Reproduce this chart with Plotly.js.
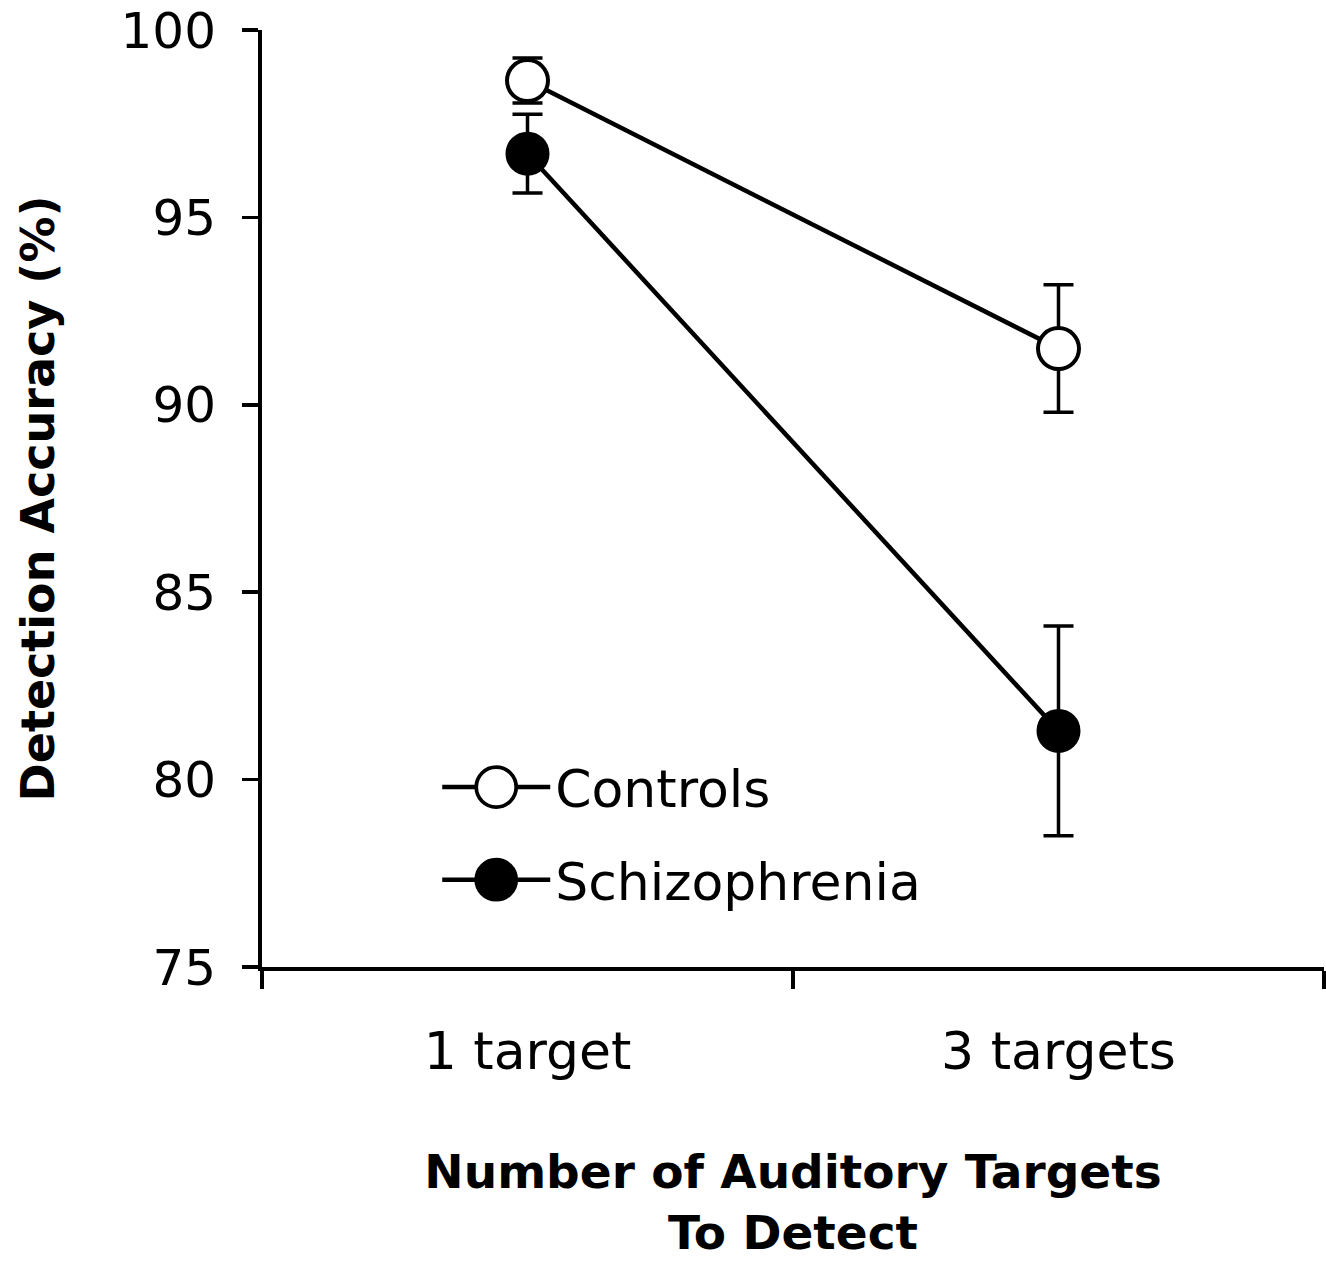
<!DOCTYPE html>
<html>
<head>
<meta charset="utf-8">
<script src="https://cdn.plot.ly/plotly-3.0.1.min.js"></script>
<style>html,body{margin:0;padding:0;background:#fff;}</style>
</head>
<body>
<div id="chart" style="width:1326px;height:1269px;"></div>
<script>
const categories = ["1 target", "3 targets"];
const controlsMean = [98.65, 91.5];
const controlsErr = [0.6, 1.7];
const schizMean = [96.7, 81.3];
const schizErr = [1.05, 2.8];
const seriesNames = ["Controls", "Schizophrenia"];
const yTicks = [75, 80, 85, 90, 95, 100];

const FONT = "DejaVu Sans, sans-serif";

const traces = [
  {
    x: categories, y: schizMean, name: seriesNames[1], type: "scatter", mode: "lines+markers",
    legendgroup: "b", legendrank: 2,
    line: {color: "#000", width: 4.5},
    marker: {symbol: "circle", size: 41, color: "#000", line: {color: "#000", width: 3}},
    error_y: {type: "data", array: schizErr, visible: true, color: "#000", thickness: 3.5, width: 15}
  },
  {
    x: categories, y: controlsMean, name: seriesNames[0], type: "scatter", mode: "lines+markers",
    legendgroup: "a", legendrank: 1,
    line: {color: "#000", width: 4.5},
    marker: {symbol: "circle", size: 41, color: "#fff", line: {color: "#000", width: 4}},
    error_y: {type: "data", array: controlsErr, visible: true, color: "#000", thickness: 3.5, width: 15}
  }
];

const layout = {
  width: 1326, height: 1269,
  paper_bgcolor: "#fff", plot_bgcolor: "#fff",
  margin: {l: 262, r: 2, t: 30, b: 302},
  font: {family: FONT, color: "#000"},
  showlegend: true,
  legend: {
    x: 0.165, y: 0.235, xanchor: "left", yanchor: "top",
    font: {size: 52, family: FONT, color: "#000"},
    itemwidth: 108, tracegroupgap: 22, traceorder: "grouped",
    bgcolor: "rgba(0,0,0,0)"
  },
  xaxis: {
    type: "category", range: [-0.5, 1.5],
    showline: true, linecolor: "#000", linewidth: 4,
    ticks: "outside", tickson: "boundaries", ticklen: 18, tickwidth: 3.5, tickcolor: "#000",
    showgrid: false, zeroline: false,
    tickfont: {size: 52, family: FONT, color: "#000"},
    ticklabelstandoff: 36,
    title: {text: "<b>Number of Auditory Targets<br>To Detect</b>", font: {size: 47, family: FONT, color: "#000"}, standoff: 76}
  },
  yaxis: {
    range: [75, 100], tickvals: yTicks,
    showline: true, linecolor: "#000", linewidth: 4,
    ticks: "outside", ticklen: 16, tickwidth: 3.5, tickcolor: "#000",
    showgrid: false, zeroline: false,
    tickfont: {size: 50, family: FONT, color: "#000"},
    ticklabelstandoff: 16,
    title: {text: "<b>Detection Accuracy (%)</b>", font: {size: 46, family: FONT, color: "#000"}, standoff: 52}
  }
};

Plotly.newPlot("chart", traces, layout, {displayModeBar: false, staticPlot: true}).then(function (gd) {
  // enlarge legend marker symbols to match the plotted marker size
  gd.querySelectorAll(".legend path.scatterpts").forEach(function (p) {
    const t = p.getAttribute("transform") || "";
    p.setAttribute("transform", t + " scale(2.5)");
    p.style.strokeWidth = "1.5px";
  });
});
</script>
</body>
</html>
